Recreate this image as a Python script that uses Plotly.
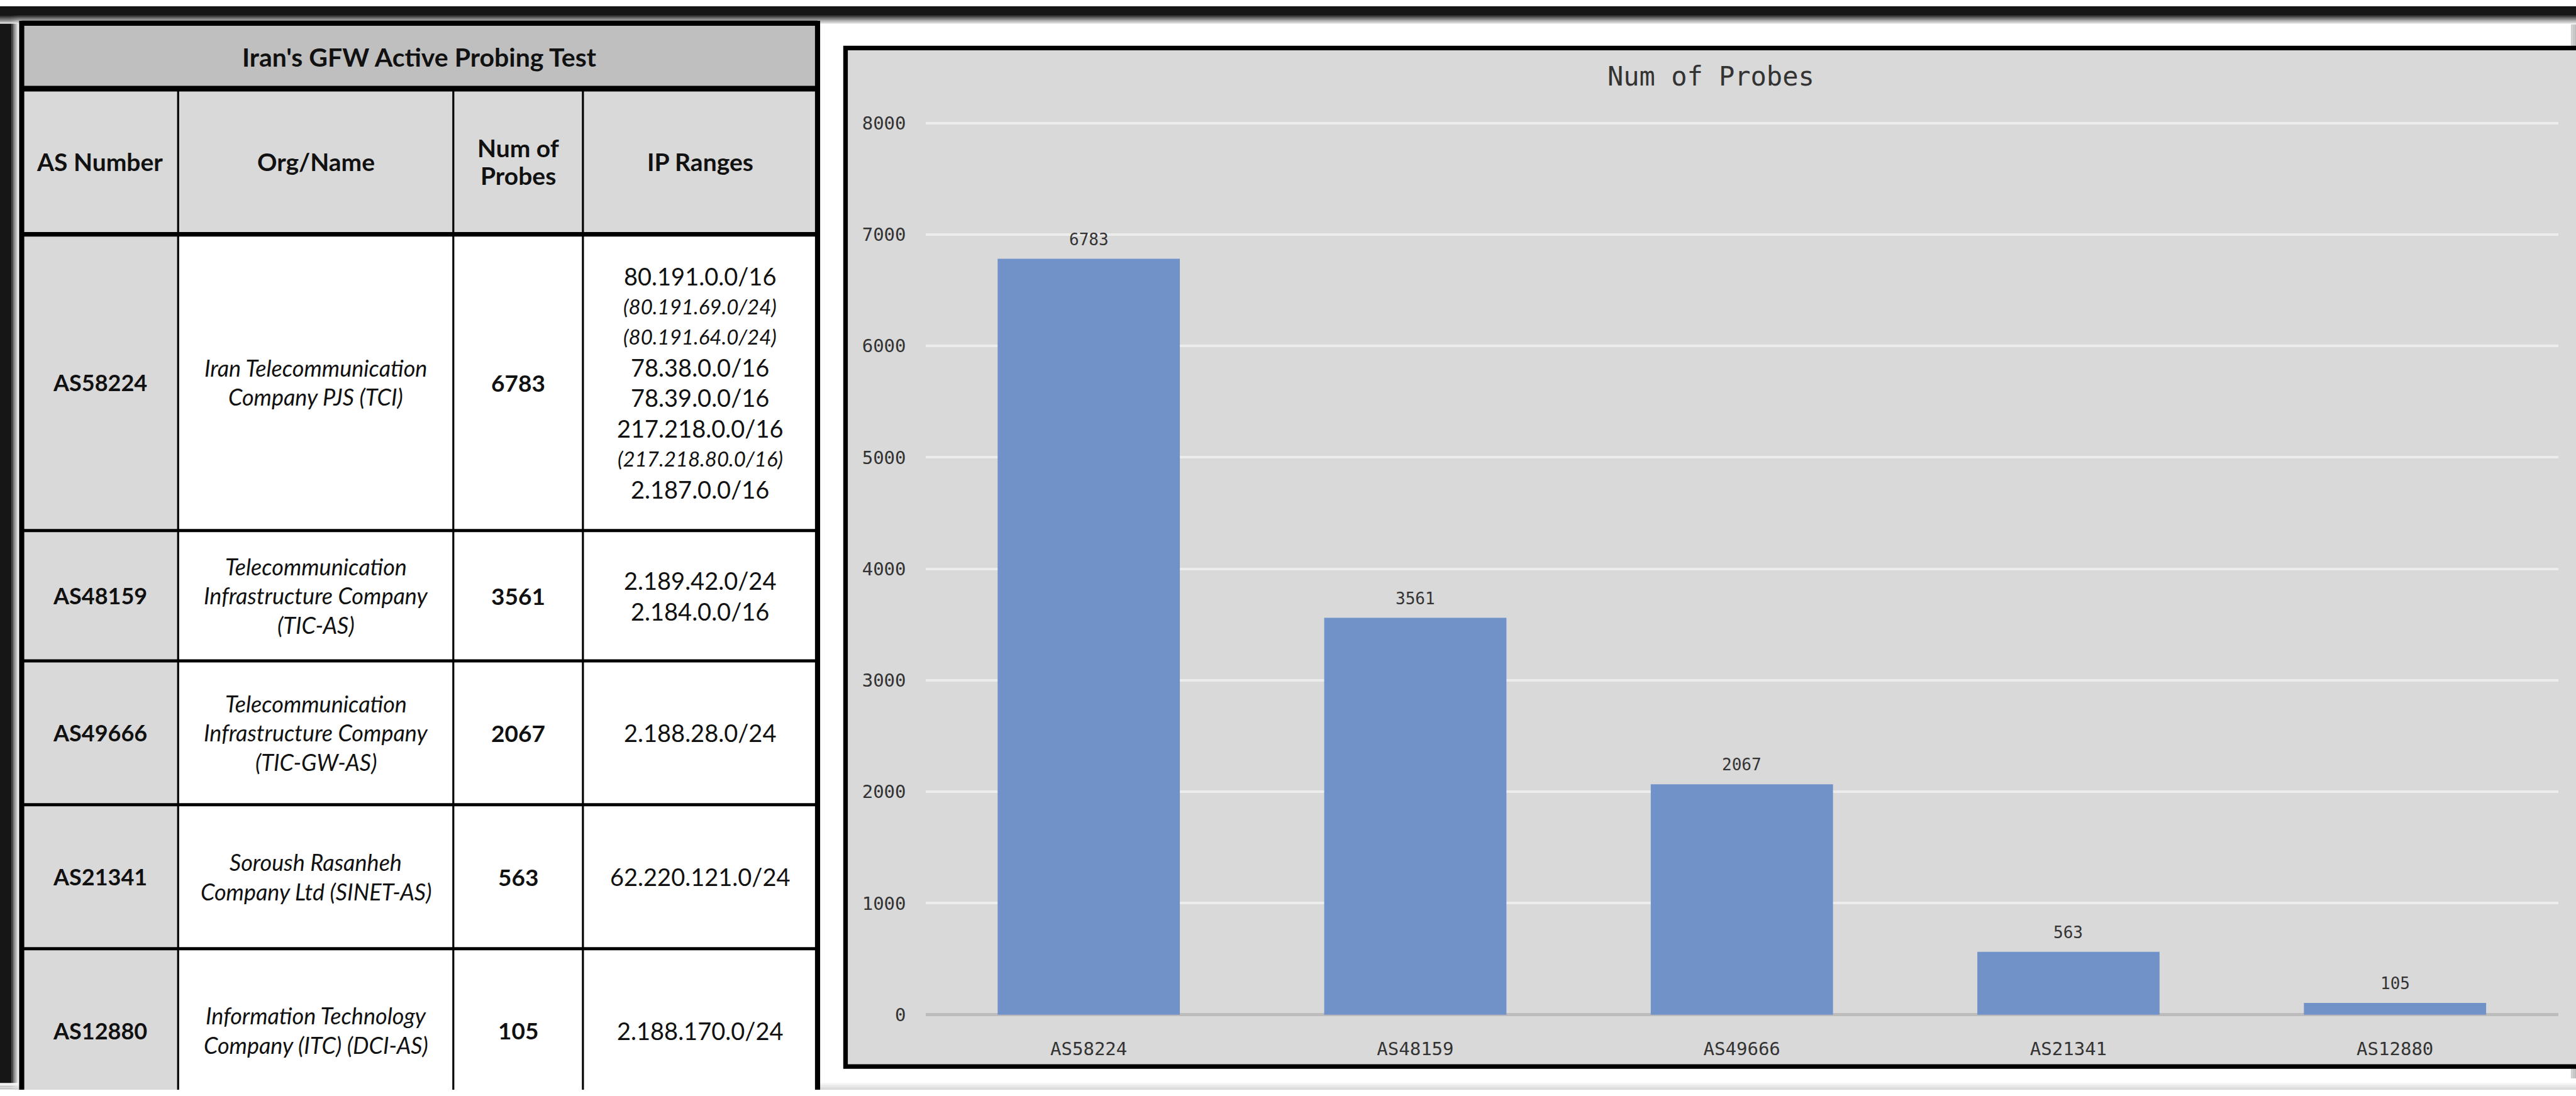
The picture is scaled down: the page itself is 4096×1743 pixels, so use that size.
import plotly.graph_objects as go

# ---------------- data ----------------
table_title = "Iran's GFW Active Probing Test"
header_labels = ["AS Number", "Org/Name", "Num of<br>Probes", "IP Ranges"]
as_numbers = ["AS58224", "AS48159", "AS49666", "AS21341", "AS12880"]
num_probes = [6783, 3561, 2067, 563, 105]
org_names = [
    ["Iran Telecommunication", "Company PJS (TCI)"],
    ["Telecommunication", "Infrastructure Company", "(TIC-AS)"],
    ["Telecommunication", "Infrastructure Company", "(TIC-GW-AS)"],
    ["Soroush Rasanheh", "Company Ltd (SINET-AS)"],
    ["Information Technology", "Company (ITC) (DCI-AS)"],
]
ip_ranges = [
    ["80.191.0.0/16", "(80.191.69.0/24)", "(80.191.64.0/24)", "78.38.0.0/16",
     "78.39.0.0/16", "217.218.0.0/16", "(217.218.80.0/16)", "2.187.0.0/16"],
    ["2.189.42.0/24", "2.184.0.0/16"],
    ["2.188.28.0/24"],
    ["62.220.121.0/24"],
    ["2.188.170.0/24"],
]
chart_title = "Num of Probes"
y_ticks = [0, 1000, 2000, 3000, 4000, 5000, 6000, 7000, 8000]

# ---------------- layout constants (reference pixel space) ----------------
REF_W, REF_H = 4512, 1920
W, H = 4096, 1743
K = W / REF_W

TABLE_DOM_W = 1455
COL_X = [38, 312, 794, 1021, 1432]
ROW_Y = [30, 146, 404, 929, 1160, 1415, 1670, 1935]
ORG_LINE = 52
IP_LINE = 54

PANEL = (1481, 74, 4560, 1879)
PLOT_X = (1621, 4481)
Y0_PIX, Y8000_PIX = 1787, 207
Y_RANGE = (-40, 8040)
PER_UNIT = (Y0_PIX - Y8000_PIX) / 8000.0

BAR_COLOR = "#7191c9"
PANEL_BG = "#d9d9d9"
TITLE_BG = "#bfbfbf"
HEAD_BG = "#d9d9d9"
TXT = "#111111"
MONO = "DejaVu Sans Mono"
SANS = "Lato"


def pxp(x):
    return x / REF_W


def pyp(y):
    return 1 - y / REF_H


shapes = []
annos = []


def paper_rect(x0, y0, x1, y1, fill, lw=0, lc="black"):
    shapes.append(dict(type="rect", xref="paper", yref="paper", layer="below",
                       x0=pxp(x0), x1=pxp(x1), y0=pyp(y0), y1=pyp(y1),
                       fillcolor=fill, line=dict(width=lw * K, color=lc)))


def t_rect(x0, y0, x1, y1, fill):
    shapes.append(dict(type="rect", xref="x2", yref="y2", layer="below",
                       x0=x0, x1=x1, y0=y0, y1=y1, fillcolor=fill,
                       line=dict(width=0)))


def t_line(x0, y0, x1, y1, w, color="black"):
    shapes.append(dict(type="line", xref="x2", yref="y2", layer="above",
                       x0=x0, x1=x1, y0=y0, y1=y1,
                       line=dict(width=w * K, color=color)))


def mix(c1, c2, t):
    return "rgb(%d,%d,%d)" % tuple(round(a + (b - a) * t) for a, b in zip(c1, c2))


DARK = (22, 22, 22)
WHITE = (255, 255, 255)

# ---- vignette (dark frame at top and left) ----
paper_rect(0, 0, 20, REF_H, mix(DARK, DARK, 0))
steps = 6
for i in range(steps):
    xa = 20 + i * 2
    paper_rect(xa, 0, xa + 2, REF_H, mix(DARK, WHITE, (i + 1) / (steps + 1)))
paper_rect(0, 0, REF_W, 17, mix(DARK, DARK, 0))
steps = 7
for i in range(steps):
    ya = 17 + i * 2
    paper_rect(0, ya, REF_W, ya + 2, mix(DARK, WHITE, (i + 1) / (steps + 1)))
# faint bottom / right shading
for i in range(4):
    paper_rect(0, 1908 + i * 3, REF_W, 1911 + i * 3, mix(WHITE, (215, 215, 215), (i + 1) / 4))
for i in range(3):
    paper_rect(4503 + i * 3, 32, 4506 + i * 3, 1900, mix((217, 217, 217), (190, 190, 190), (i + 1) / 3))

# ---- chart panel ----
paper_rect(PANEL[0], PANEL[1], PANEL[2], PANEL[3], PANEL_BG, lw=8, lc="black")

# ---- table ----
x_left, x_right = COL_X[0], COL_X[-1]
t_rect(x_left, ROW_Y[0], x_right, ROW_Y[1], TITLE_BG)
t_rect(x_left, ROW_Y[1], x_right, ROW_Y[2], HEAD_BG)
for r in range(len(as_numbers)):
    y0, y1 = ROW_Y[2 + r], ROW_Y[3 + r]
    t_rect(x_left, y0, COL_X[1], y1, HEAD_BG)
    t_rect(COL_X[1], y0, x_right, y1, "white")

# vertical column lines
for cx in COL_X[1:-1]:
    t_line(cx, ROW_Y[1], cx, ROW_Y[-1], 3.5)
# horizontal lines
t_line(x_left, ROW_Y[1], x_right, ROW_Y[1], 10)
t_line(x_left, ROW_Y[2], x_right, ROW_Y[2], 8)
for yy in ROW_Y[3:-1]:
    t_line(x_left, yy, x_right, yy, 5.5)
# outer border
t_line(x_left, ROW_Y[0], x_right, ROW_Y[0], 9)
t_line(x_left, ROW_Y[0] - 4.5, x_left, ROW_Y[-1], 9)
t_line(x_right, ROW_Y[0] - 4.5, x_right, ROW_Y[-1], 9)


def t_text(x, y, text, size, color=TXT, family=SANS):
    annos.append(dict(xref="x2", yref="y2", x=x, y=y, text=text, showarrow=False,
                      xanchor="center", yanchor="middle",
                      font=dict(family=family, size=size, color=color)))


# title
t_text((x_left + x_right) / 2, (ROW_Y[0] + ROW_Y[1]) / 2 + 2, "<b>%s</b>" % table_title, 41)
# header
for c, lab in enumerate(header_labels):
    cx = (COL_X[c] + COL_X[c + 1]) / 2
    cy = (ROW_Y[1] + ROW_Y[2]) / 2
    parts = lab.split("<br>")
    n = len(parts)
    for i, p in enumerate(parts):
        t_text(cx, cy + (i - (n - 1) / 2) * 49, "<b>%s</b>" % p, 39)

# body rows
for r in range(len(as_numbers)):
    y0, y1 = ROW_Y[2 + r], ROW_Y[3 + r]
    cy = (y0 + y1) / 2
    if r == len(as_numbers) - 1:
        cy = y0 + 145
    t_text((COL_X[0] + COL_X[1]) / 2, cy, "<b>%s</b>" % as_numbers[r], 36)
    lines = org_names[r]
    n = len(lines)
    for i, ln in enumerate(lines):
        t_text((COL_X[1] + COL_X[2]) / 2, cy + (i - (n - 1) / 2) * ORG_LINE, "<i>%s</i>" % ln, 36)
    t_text((COL_X[2] + COL_X[3]) / 2, cy, "<b>%d</b>" % num_probes[r], 37)
    lines = ip_ranges[r]
    n = len(lines)
    for i, ln in enumerate(lines):
        yy = cy + (i - (n - 1) / 2) * IP_LINE
        if ln.startswith("("):
            t_text((COL_X[3] + COL_X[4]) / 2, yy, "<i>%s</i>" % ln, 33)
        else:
            t_text((COL_X[3] + COL_X[4]) / 2, yy, ln, 38)

# ---- chart ----
fig = go.Figure()
fig.add_trace(go.Bar(x=as_numbers, y=num_probes, width=0.558,
                     marker=dict(color=BAR_COLOR, line=dict(width=0)),
                     hoverinfo="skip", showlegend=False))
# invisible trace to carry the table axes
fig.add_trace(go.Scatter(x=[0], y=[0], xaxis="x2", yaxis="y2", mode="markers",
                         marker=dict(opacity=0, size=1), hoverinfo="skip",
                         showlegend=False))

for cat, val in zip(as_numbers, num_probes):
    annos.append(dict(xref="x", yref="y", x=cat, y=val, text=str(val),
                      showarrow=False, xanchor="center", yanchor="middle",
                      yshift=34 * K, font=dict(family=MONO, size=26, color="#333333")))

annos.append(dict(xref="paper", yref="paper", x=pxp((PANEL[0] + 4512) / 2), y=pyp(124),
                  text=chart_title, showarrow=False, xanchor="center", yanchor="middle",
                  font=dict(family=MONO, size=42, color="#333333")))

y_bot = Y0_PIX - Y_RANGE[0] * PER_UNIT
y_top = Y0_PIX - Y_RANGE[1] * PER_UNIT

fig.update_layout(
    width=W, height=H,
    margin=dict(l=0, r=0, t=0, b=0, pad=0),
    paper_bgcolor="white",
    plot_bgcolor="rgba(0,0,0,0)",
    showlegend=False,
    xaxis=dict(domain=[pxp(PLOT_X[0]), pxp(PLOT_X[1])], type="category",
               range=[-0.5, len(as_numbers) - 0.5],
               showgrid=False, showline=False, zeroline=False, ticks="",
               tickfont=dict(family=MONO, size=29, color="#333333"),
               ticklabelstandoff=27, fixedrange=True),
    yaxis=dict(domain=[pyp(y_bot), pyp(y_top)], range=list(Y_RANGE),
               tickmode="array", tickvals=y_ticks,
               ticktext=[str(v) for v in y_ticks],
               showgrid=True, gridcolor="#ececec", gridwidth=4 * K,
               zeroline=True, zerolinecolor="#bcbcbc", zerolinewidth=6 * K,
               showline=False, ticks="",
               tickfont=dict(family=MONO, size=29, color="#333333"),
               ticklabelstandoff=30, fixedrange=True),
    xaxis2=dict(domain=[0, pxp(TABLE_DOM_W)], range=[0, TABLE_DOM_W],
                visible=False, anchor="y2", fixedrange=True),
    yaxis2=dict(domain=[0, 1], range=[REF_H, 0], visible=False,
                anchor="x2", fixedrange=True),
    shapes=shapes,
    annotations=annos,
)

fig.write_html("out.html")
